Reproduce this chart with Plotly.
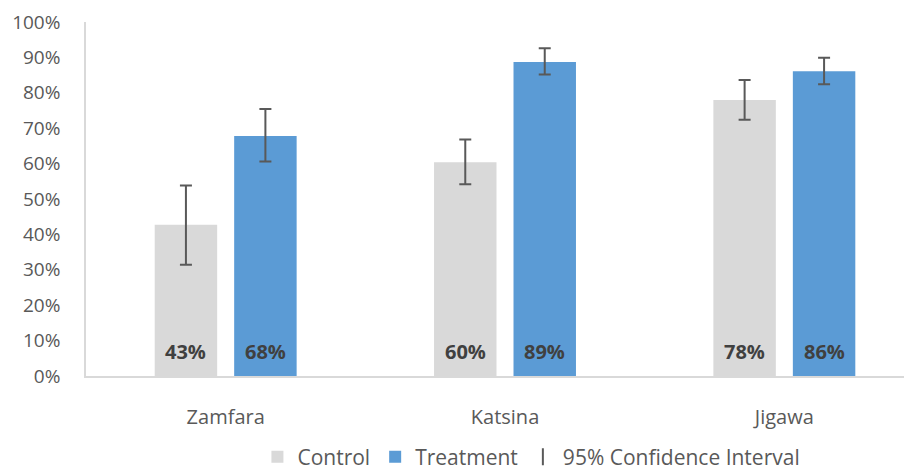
import plotly.graph_objects as go

categories = ["Zamfara", "Katsina", "Jigawa"]
control = [0.427, 0.604, 0.780]
control_lo = [0.314, 0.542, 0.724]
control_hi = [0.538, 0.668, 0.836]
treatment = [0.678, 0.887, 0.861]
treatment_lo = [0.606, 0.852, 0.824]
treatment_hi = [0.754, 0.926, 0.899]
y_ticks = [i / 10 for i in range(11)]
y_tick_labels = [f"{i * 10}%" for i in range(11)]

FONT = "Open Sans"
TXT = "#595959"
ERR = "#595959"

fig = go.Figure()

fig.add_trace(go.Bar(
    x=categories, y=control, name="Control",
    marker=dict(color="#D9D9D9", line=dict(width=0)),
    error_y=dict(type="data", symmetric=False,
                 array=[h - v for h, v in zip(control_hi, control)],
                 arrayminus=[v - l for v, l in zip(control, control_lo)],
                 color=ERR, thickness=2, width=6),
))
fig.add_trace(go.Bar(
    x=categories, y=treatment, name="Treatment",
    marker=dict(color="#5B9BD5", line=dict(width=0)),
    error_y=dict(type="data", symmetric=False,
                 array=[h - v for h, v in zip(treatment_hi, treatment)],
                 arrayminus=[v - l for v, l in zip(treatment, treatment_lo)],
                 color=ERR, thickness=2, width=6),
))
fig.add_trace(go.Scatter(
    x=[None], y=[None], mode="markers", name="95% Confidence Interval",
    marker=dict(symbol="line-ns-open", size=18, color=ERR, line=dict(width=2, color=ERR)),
))

annotations = []
for cat, c, t in zip(categories, control, treatment):
    for val, shift in ((c, -39.75), (t, 39.75)):
        annotations.append(dict(
            x=cat, y=0.068, xref="x", yref="y", xshift=shift,
            text=f"<b>{round(val * 100):d}%</b>", showarrow=False,
            yanchor="middle", xanchor="center",
            font=dict(family=FONT, size=20, color="#404040"),
        ))

fig.update_layout(
    width=904, height=463,
    margin=dict(l=78, r=0, t=14, b=95),
    paper_bgcolor="white", plot_bgcolor="white",
    barmode="group", bargap=0.431, bargroupgap=0.214,
    font=dict(family=FONT, size=19, color=TXT),
    annotations=annotations,
    showlegend=True,
    legend=dict(orientation="h", xref="container", yref="container",
                x=0.579, xanchor="center", y=0.03, yanchor="middle",
                font=dict(family=FONT, size=21, color=TXT), itemsizing="constant",
                traceorder="normal"),
    xaxis=dict(range=[-0.5, 2.457], showline=True, linecolor="#D9D9D9", linewidth=1.5,
               showgrid=False, ticks="", tickfont=dict(family=FONT, size=20, color=TXT),
               ticklabelstandoff=22, fixedrange=True),
    yaxis=dict(range=[0, 1], tickvals=y_ticks, ticktext=y_tick_labels,
               showline=True, linecolor="#D9D9D9", linewidth=1.5, showgrid=False,
               zeroline=False, ticks="", tickfont=dict(family=FONT, size=19, color=TXT),
               ticklabelstandoff=20, fixedrange=True),
)

fig.write_html("out.html")
